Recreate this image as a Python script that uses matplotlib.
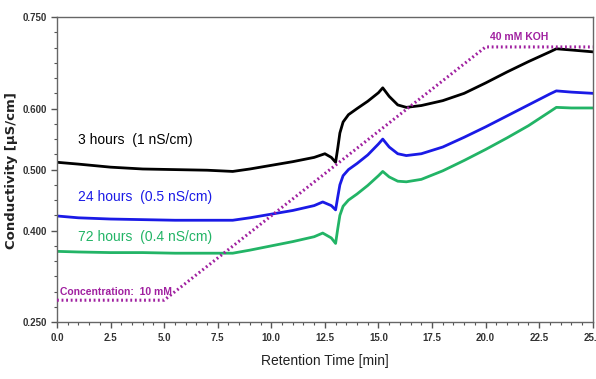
import matplotlib.pyplot as plt
import numpy as np
from matplotlib.ticker import MultipleLocator, FixedLocator

plt.rcParams['font.family'] = ['Liberation Sans', 'DejaVu Sans']

# retention time [min] and conductivity [uS/cm]
t_3h = [0.0, 1.0, 2.5, 4.0, 5.5, 7.0, 8.2, 9.0, 10.0, 11.0, 12.0, 12.5, 12.8, 13.0, 13.1, 13.2, 13.35, 13.6, 14.0, 14.5, 15.0, 15.2, 15.5, 15.9, 16.3, 17.0, 18.0, 19.0, 20.0, 21.0, 22.0, 23.0, 23.3, 24.0, 25.0]
c_3h = [0.512, 0.509, 0.504, 0.501, 0.500, 0.499, 0.497, 0.501, 0.507, 0.513, 0.520, 0.526, 0.520, 0.512, 0.535, 0.560, 0.578, 0.590, 0.600, 0.612, 0.626, 0.634, 0.620, 0.606, 0.602, 0.605, 0.613, 0.625, 0.642, 0.660, 0.677, 0.693, 0.698, 0.696, 0.693]

t_24h = [0.0, 1.0, 2.5, 4.0, 5.5, 7.0, 8.2, 9.0, 10.0, 11.0, 12.0, 12.4, 12.8, 13.0, 13.1, 13.2, 13.35, 13.6, 14.0, 14.5, 15.0, 15.2, 15.5, 15.9, 16.3, 17.0, 18.0, 19.0, 20.0, 21.0, 22.0, 23.0, 23.3, 24.0, 25.0]
c_24h = [0.424, 0.421, 0.419, 0.418, 0.417, 0.417, 0.417, 0.421, 0.427, 0.433, 0.441, 0.447, 0.441, 0.434, 0.455, 0.475, 0.490, 0.500, 0.510, 0.524, 0.542, 0.550, 0.537, 0.526, 0.523, 0.526, 0.537, 0.553, 0.570, 0.588, 0.606, 0.624, 0.629, 0.627, 0.625]

t_72h = [0.0, 1.0, 2.5, 4.0, 5.5, 7.0, 8.2, 9.0, 10.0, 11.0, 12.0, 12.4, 12.8, 13.0, 13.1, 13.2, 13.35, 13.6, 14.0, 14.5, 15.0, 15.2, 15.5, 15.9, 16.3, 17.0, 18.0, 19.0, 20.0, 21.0, 22.0, 23.0, 23.3, 24.0, 25.0]
c_72h = [0.366, 0.365, 0.364, 0.364, 0.363, 0.363, 0.363, 0.368, 0.375, 0.382, 0.390, 0.396, 0.388, 0.379, 0.403, 0.425, 0.440, 0.450, 0.460, 0.474, 0.490, 0.497, 0.488, 0.481, 0.480, 0.484, 0.498, 0.515, 0.533, 0.552, 0.572, 0.595, 0.602, 0.601, 0.601]

# KOH gradient [mM]
t_koh = [0.0, 5.0, 20.0, 25.0]
koh = [10, 10, 40, 40]

x_ticks = np.arange(0, 25.1, 2.5)
y_ticks = [0.25, 0.4, 0.5, 0.6, 0.75]

fig = plt.figure(figsize=(5.96, 3.79), dpi=100)
ax = fig.add_axes([0.0956, 0.150, 0.899, 0.805])

ax.plot(t_3h, c_3h, color='black', lw=2.0)
ax.plot(t_24h, c_24h, color='#1a1ae6', lw=2.0)
ax.plot(t_72h, c_72h, color='#22b466', lw=2.0)

ax.set_xlim(0, 25)
ax.set_ylim(0.25, 0.75)

# eluent on its own hidden scale so 10 mM and 40 mM sit where the picture has them
ax2 = ax.twinx()
ax2.plot(t_koh, koh, color='#a020a0', lw=2.2, ls=(0, (0.6, 0.9)))
ax2.set_ylim(7.40, 43.54)
ax2.set_yticks([])
for s in ax2.spines.values():
    s.set_visible(False)

ax.set_xticks(x_ticks)
ax.set_xticklabels([f'{v:.1f}' for v in x_ticks])
ax.xaxis.set_minor_locator(MultipleLocator(0.5))
ax.yaxis.set_major_locator(FixedLocator(y_ticks))
ax.set_yticklabels([f'{v:.3f}' for v in y_ticks])
ax.yaxis.set_minor_locator(MultipleLocator(0.025))
ax.tick_params(axis='both', which='major', direction='out', length=4, width=1, labelsize=7, color='#555555')
ax.tick_params(axis='both', which='minor', direction='out', length=2.5, width=0.8, color='#555555')
for lab in ax.get_xticklabels() + ax.get_yticklabels():
    lab.set_fontweight('bold')
    lab.set_color('#333333')
for s in ax.spines.values():
    s.set_color('#666666')
    s.set_linewidth(1.0)

ax.set_xlabel('Retention Time [min]', fontsize=10, labelpad=8, color='#222222')
fig.text(0.02, 0.55, 'Conductivity [µS/cm]', rotation=90, ha='center', va='center',
         fontsize=9.5, fontweight='bold', color='#222222', family=['DejaVu Sans'])

ax.text(1.0, 0.542, '3 hours  (1 nS/cm)', fontsize=10, color='black')
ax.text(1.0, 0.449, '24 hours  (0.5 nS/cm)', fontsize=10, color='#1a1ae6')
ax.text(1.0, 0.383, '72 hours  (0.4 nS/cm)', fontsize=10, color='#22b466')
ax.text(0.15, 0.295, 'Concentration:  10 mM', fontsize=7.5, color='#a020a0', fontweight='bold')
ax.text(20.2, 0.713, '40 mM KOH', fontsize=7.5, color='#a020a0', fontweight='bold')

fig.savefig('out.png', dpi=100)
